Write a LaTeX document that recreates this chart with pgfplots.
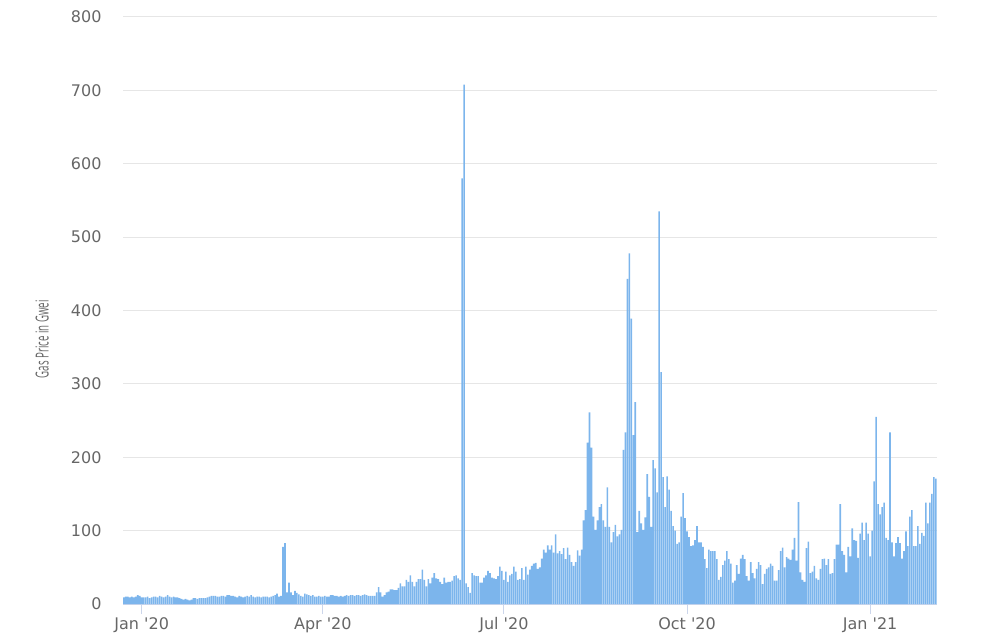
\documentclass[border=0pt]{standalone}
\usepackage{fontspec}
\usepackage{pgfplots}
\pgfplotsset{compat=1.18}
\setmainfont{DejaVu Sans}[Ligatures=TeXOff]
\newfontfamily\tickfont{DejaVu Sans}[Ligatures=TeXOff]
\newfontfamily\labfont{Open Sans}[FakeStretch=0.54]
\definecolor{barc}{HTML}{7CB5EC}
\definecolor{gridc}{HTML}{E6E6E6}
\definecolor{axc}{HTML}{CCD6EB}
\definecolor{labc}{HTML}{666666}
\begin{document}
\begin{tikzpicture}
\path[use as bounding box] (0,0) rectangle (991pt,643pt);
\begin{axis}[
  at={(123pt,39pt)}, anchor=south west,
  scale only axis, width=814pt, height=587pt,
  xmin=-9.4, xmax=399.6, ymin=0, ymax=800,
  ytick={0,100,...,800},
  xtick={0,91,182,274,366},
  xticklabels={Jan '20, Apr '20, Jul '20, Oct '20, Jan '21},
  /pgf/number format/assume math mode=true,
  ymajorgrids, grid style={color=gridc, line width=1pt},
  axis x line*=bottom, axis y line*=left,
  x axis line style={color=axc, line width=1pt, -},
  y axis line style={draw=none},
  tick align=outside, major tick length=10pt,
  xtick style={color=axc, line width=1pt},
  ytick style={draw=none},
  ticklabel style={font=\tickfont\fontsize{16}{18}\selectfont, color=labc},
  yticklabel style={xshift=-8pt},
  ylabel={\labfont\fontsize{18}{20}\selectfont Gas Price in Gwei},
  ylabel style={color=labc, at={(rel axis cs:-0.0995,0.451)}, anchor=center},
  ybar, bar width=0.8,
]
\addplot[fill=barc, draw=none] coordinates {
(-9,9) (-8,10) (-7,10) (-6,9) (-5,10) (-4,9) (-3,10) (-2,12) (-1,11)
(0,9) (1,9) (2,9) (3,10) (4,8) (5,9) (6,10) (7,10) (8,9) (9,11)
(10,10) (11,9) (12,10) (13,12) (14,10) (15,9) (16,10) (17,9) (18,9) (19,8)
(20,7) (21,6) (22,7) (23,6) (24,5) (25,6) (26,8) (27,8) (28,7) (29,8)
(30,8) (31,8) (32,8) (33,9) (34,10) (35,11) (36,11) (37,11) (38,10) (39,10)
(40,11) (41,11) (42,10) (43,12) (44,12) (45,11) (46,11) (47,10) (48,9) (49,11)
(50,10) (51,9) (52,10) (53,11) (54,10) (55,12) (56,10) (57,9) (58,10) (59,10)
(60,9) (61,10) (62,10) (63,10) (64,9) (65,10) (66,11) (67,12) (68,14) (69,10)
(70,11) (71,78) (72,83) (73,16) (74,29) (75,16) (76,12) (77,18) (78,15) (79,13)
(80,11) (81,10) (82,14) (83,13) (84,12) (85,11) (86,12) (87,10) (88,10) (89,11)
(90,10) (91,10) (92,11) (93,10) (94,10) (95,12) (96,12) (97,11) (98,11) (99,10)
(100,11) (101,10) (102,11) (103,12) (104,11) (105,12) (106,12) (107,11) (108,12) (109,12)
(110,11) (111,12) (112,13) (113,12) (114,11) (115,11) (116,11) (117,11) (118,16) (119,23)
(120,16) (121,10) (122,12) (123,16) (124,17) (125,20) (126,20) (127,19) (128,19) (129,22)
(130,28) (131,24) (132,24) (133,33) (134,30) (135,39) (136,30) (137,24) (138,30) (139,34)
(140,34) (141,47) (142,33) (143,24) (144,34) (145,28) (146,36) (147,42) (148,35) (149,34)
(150,30) (151,27) (152,36) (153,29) (154,30) (155,30) (156,32) (157,38) (158,39) (159,35)
(160,33) (161,580) (162,708) (163,28) (164,23) (165,15) (166,42) (167,39) (168,38) (169,38)
(170,29) (171,29) (172,36) (173,39) (174,45) (175,42) (176,36) (177,35) (178,34) (179,38)
(180,51) (181,45) (182,33) (183,44) (184,30) (185,39) (186,41) (187,51) (188,44) (189,33)
(190,34) (191,49) (192,33) (193,51) (194,40) (195,47) (196,52) (197,55) (198,56) (199,48)
(200,50) (201,62) (202,74) (203,70) (204,80) (205,74) (206,80) (207,70) (208,95) (209,69)
(210,72) (211,68) (212,76) (213,61) (214,77) (215,67) (216,57) (217,52) (218,57) (219,73)
(220,66) (221,74) (222,114) (223,128) (224,220) (225,261) (226,213) (227,119) (228,101) (229,114)
(230,132) (231,136) (232,114) (233,105) (234,159) (235,105) (236,84) (237,98) (238,108) (239,92)
(240,95) (241,101) (242,210) (243,234) (244,443) (245,478) (246,389) (247,230) (248,275) (249,98)
(250,127) (251,110) (252,101) (253,118) (254,177) (255,146) (256,105) (257,196) (258,185) (259,152)
(260,535) (261,316) (262,173) (263,132) (264,174) (265,156) (266,127) (267,106) (268,100) (269,82)
(270,84) (271,119) (272,151) (273,117) (274,99) (275,91) (276,79) (277,80) (278,87) (279,106)
(280,84) (281,84) (282,78) (283,61) (284,49) (285,74) (286,72) (287,72) (288,72) (289,61)
(290,33) (291,37) (292,53) (293,59) (294,72) (295,61) (296,55) (297,29) (298,32) (299,53)
(300,41) (301,62) (302,67) (303,61) (304,38) (305,32) (306,57) (307,42) (308,35) (309,48)
(310,57) (311,53) (312,27) (313,41) (314,48) (315,50) (316,55) (317,52) (318,32) (319,32)
(320,46) (321,72) (322,77) (323,50) (324,64) (325,62) (326,60) (327,74) (328,90) (329,59)
(330,139) (331,43) (332,33) (333,30) (334,76) (335,85) (336,42) (337,44) (338,52) (339,35)
(340,33) (341,48) (342,61) (343,62) (344,53) (345,61) (346,41) (347,42) (348,61) (349,81)
(350,81) (351,136) (352,72) (353,67) (354,43) (355,78) (356,65) (357,103) (358,87) (359,86)
(360,63) (361,96) (362,111) (363,87) (364,111) (365,96) (366,65) (367,100) (368,167) (369,255)
(370,136) (371,122) (372,132) (373,138) (374,90) (375,87) (376,234) (377,84) (378,65) (379,83)
(380,91) (381,83) (382,62) (383,72) (384,99) (385,79) (386,119) (387,128) (388,79) (389,79)
(390,106) (391,82) (392,97) (393,93) (394,138) (395,110) (396,138) (397,150) (398,173) (399,171)
};
\end{axis}
\end{tikzpicture}
\end{document}
